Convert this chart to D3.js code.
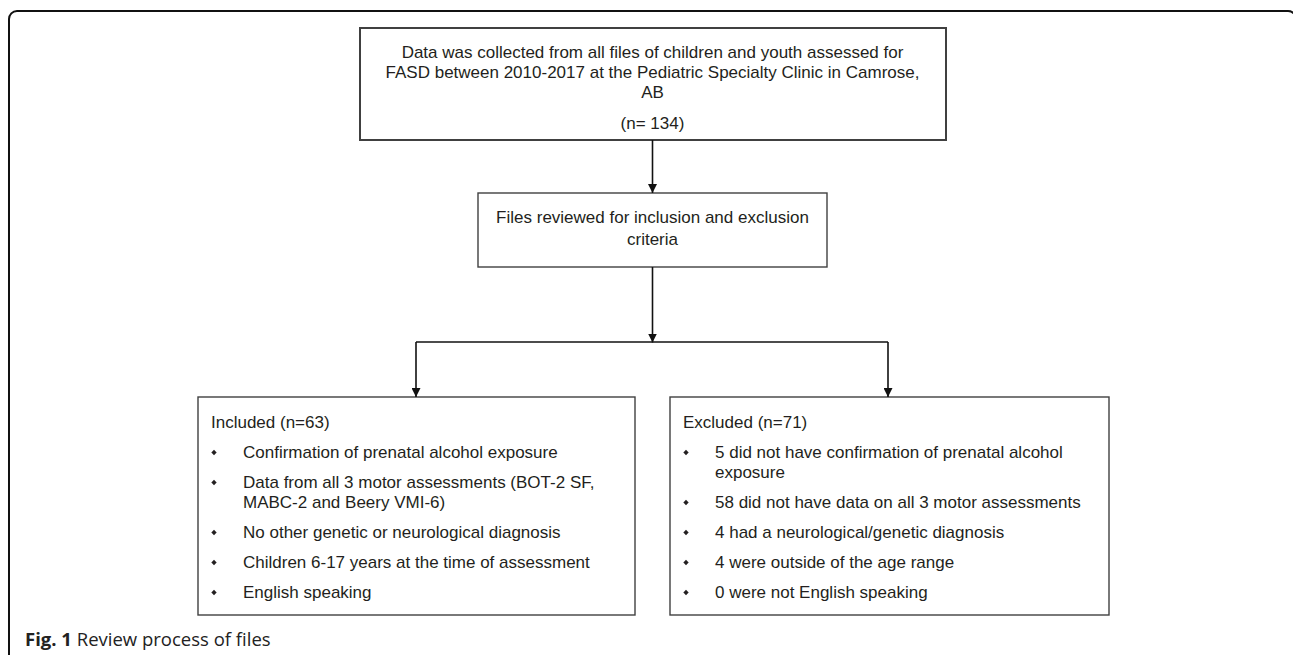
<!DOCTYPE html>
<html>
<head>
<meta charset="utf-8">
<script src="https://cdn.jsdelivr.net/npm/d3@7"></script>
<style>
  body { margin: 0; background: #fff; }
  #wrapper { width: 1293px; height: 655px; }
</style>
</head>
<body>
<div id="wrapper"></div>
<script>
// text content of the flow chart
const topLines = [
    "Data was collected from all files of children and youth assessed for",
    "FASD between 2010-2017 at the Pediatric Specialty Clinic in Camrose,",
    "AB"
]
const topCount = "(n= 134)"
const reviewLines = ["Files reviewed for inclusion and exclusion", "criteria"]
const includedTitle = "Included (n=63)"
const includedItems = [
    ["Confirmation of prenatal alcohol exposure"],
    ["Data from all 3 motor assessments (BOT-2 SF,", "MABC-2 and Beery VMI-6)"],
    ["No other genetic or neurological diagnosis"],
    ["Children 6-17 years at the time of assessment"],
    ["English speaking"]
]
const excludedTitle = "Excluded (n=71)"
const excludedItems = [
    ["5 did not have confirmation of prenatal alcohol", "exposure"],
    ["58 did not have data on all 3 motor assessments"],
    ["4 had a neurological/genetic diagnosis"],
    ["4 were outside of the age range"],
    ["0 were not English speaking"]
]
const captionBold = "Fig. 1"
const captionText = " Review process of files"

function drawflow() {
    const parent = d3.select("#wrapper")
    parent.selectAll('*').remove()

    const width = 1293
    const height = 655
    const svg = parent.append("svg")
        .attr("width", width)
        .attr("height", height)
        .style("font-family", "'Liberation Sans', Arial, sans-serif")

    const ink = "#231f20"
    const boxStroke = "#404040"
    const fs = 17

    // arrow head
    svg.append("defs").append("marker")
        .attr("id", "arrow")
        .attr("viewBox", "0 0 10 10")
        .attr("refX", 10)
        .attr("refY", 5)
        .attr("markerWidth", 9)
        .attr("markerHeight", 9)
        .attr("markerUnits", "userSpaceOnUse")
        .attr("orient", "auto")
        .append("path")
        .attr("d", "M0,0 L10,5 L0,10 z")
        .attr("fill", "#111")

    // outer frame with rounded corners
    svg.append("rect")
        .attr("x", 9).attr("y", 11)
        .attr("width", 1287).attr("height", 700)
        .attr("rx", 8).attr("ry", 8)
        .attr("fill", "none")
        .attr("stroke", "#111")
        .attr("stroke-width", 2)

    // column positions
    const cx = 652.5
    const xLeft = 416, xRight = 888

    const boxes = [
        {x: 360, y: 28, w: 586, h: 112, sw: 2},
        {x: 478, y: 193, w: 349, h: 74, sw: 1.4},
        {x: 198, y: 397, w: 437, h: 218, sw: 1.4},
        {x: 670, y: 397, w: 439, h: 218, sw: 1.4}
    ]
    svg.selectAll("rect.box").data(boxes).enter().append("rect")
        .attr("class", "box")
        .attr("x", d => d.x).attr("y", d => d.y)
        .attr("width", d => d.w).attr("height", d => d.h)
        .attr("fill", "none")
        .attr("stroke", boxStroke)
        .attr("stroke-width", d => d.sw)

    // connectors
    const line = d3.line()
    const links = [
        [[cx, 140], [cx, 193]],
        [[cx, 267], [cx, 342.5]],
        [[xLeft, 342], [xLeft, 397]],
        [[xRight, 342], [xRight, 397]]
    ]
    svg.selectAll("path.link").data(links).enter().append("path")
        .attr("class", "link")
        .attr("d", line)
        .attr("fill", "none")
        .attr("stroke", "#111")
        .attr("stroke-width", 1.6)
        .attr("marker-end", "url(#arrow)")
    svg.append("path")
        .attr("d", line([[xLeft, 342], [xRight, 342]]))
        .attr("stroke", "#111")
        .attr("stroke-width", 1.3)

    // top box text
    svg.selectAll("text.top").data(topLines).enter().append("text")
        .attr("class", "top")
        .attr("x", cx)
        .attr("y", (d, i) => 58 + i * 20)
        .attr("text-anchor", "middle")
        .attr("font-size", fs)
        .attr("fill", ink)
        .text(d => d)
    svg.append("text")
        .attr("x", cx).attr("y", 129)
        .attr("text-anchor", "middle")
        .attr("font-size", fs)
        .attr("fill", ink)
        .text(topCount)

    svg.selectAll("text.review").data(reviewLines).enter().append("text")
        .attr("class", "review")
        .attr("x", cx)
        .attr("y", (d, i) => 223 + i * 22)
        .attr("text-anchor", "middle")
        .attr("font-size", fs)
        .attr("fill", ink)
        .text(d => d)

    // bulleted lists
    function list(x0, title, items) {
        svg.append("text")
            .attr("x", x0 + 13).attr("y", 428)
            .attr("font-size", fs)
            .attr("fill", ink)
            .text(title)
        let y = 458
        items.forEach(lines => {
            svg.append("path")
                .attr("d", d3.symbol(d3.symbolDiamond2, 18))
                .attr("transform", "translate(" + (x0 + 16) + "," + (y - 5.5) + ")")
                .attr("fill", ink)
            lines.forEach((t, j) => {
                svg.append("text")
                    .attr("x", x0 + 45).attr("y", y + j * 20)
                    .attr("font-size", fs)
                    .attr("fill", ink)
                    .text(t)
            })
            y += 20 * (lines.length - 1) + 30
        })
    }
    list(198, includedTitle, includedItems)
    list(670, excludedTitle, excludedItems)

    // caption
    const cap = svg.append("text")
        .attr("x", 25).attr("y", 646)
        .attr("font-family", "'Open Sans', sans-serif")
        .attr("font-size", 18.5)
        .attr("fill", "#222")
    cap.append("tspan").attr("font-weight", "bold").text(captionBold)
    cap.append("tspan").text(captionText)
}
drawflow()
</script>
</body>
</html>
